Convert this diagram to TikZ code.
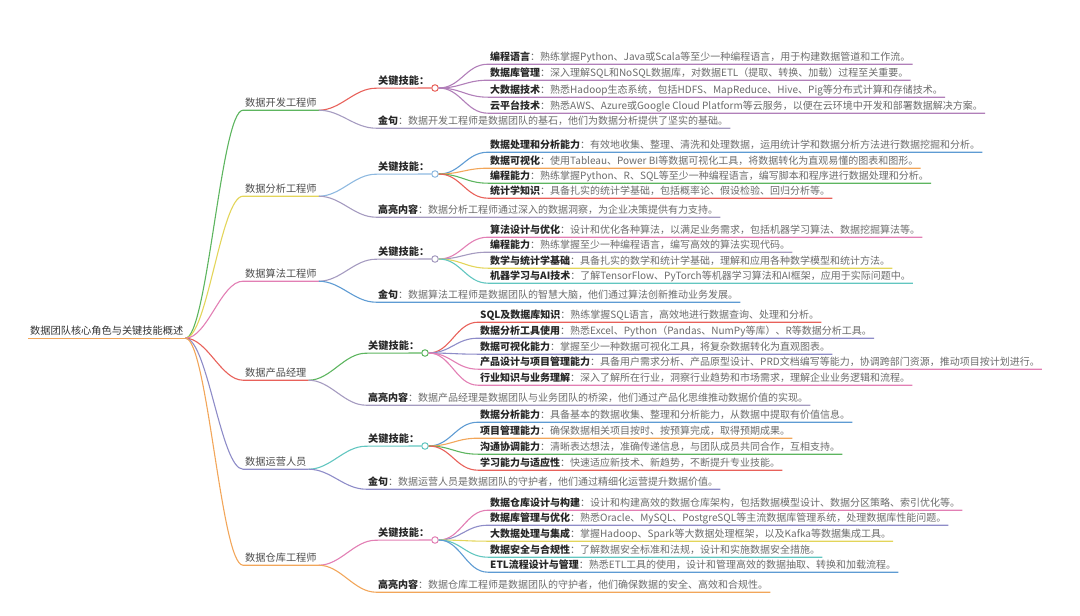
\documentclass[tikz,border=0pt]{standalone}
\usepackage{fontspec}
\setmainfont{Noto Sans CJK SC}
\usepackage{xcolor}
\usepackage{tikz}
\usetikzlibrary{calc}
\definecolor{cRed}{HTML}{E8615A}
\definecolor{cOrange}{HTML}{F2A65A}
\definecolor{cYellow}{HTML}{E3D55A}
\definecolor{cGreen}{HTML}{5DB55F}
\definecolor{cTeal}{HTML}{62C6C0}
\definecolor{cBlue}{HTML}{5E9BD3}
\definecolor{cPurple}{HTML}{8E8CC8}
\definecolor{cPink}{HTML}{E27FB4}
\definecolor{cMauve}{HTML}{B17FB9}
\definecolor{cGray}{HTML}{A59BC0}
\tikzset{
  topic/.style={anchor=west, inner xsep=2pt, inner ysep=2pt, text height=8pt, text depth=2pt,
    font=\fontsize{10.2}{12}\selectfont},
  rootnode/.style={topic, text=black!80},
  role/.style={topic, text=black!70},
  head/.style={topic, text=black!85, font=\fontsize{10.2}{12}\selectfont\bfseries},
  leaf/.style={topic, text=black!58, font=\fontsize{10}{12}\selectfont},
  dot/.style={circle, draw=#1, fill=white, line width=1pt, inner sep=0pt, minimum size=6.5pt},
  link/.style={draw=#1, line width=1.1pt},
  mmcurve/.style={to path={.. controls +(22,0) and +(-22,0) .. (\tikztotarget)}}}
\newcommand{\keytxt}[1]{{\color{black!85}\bfseries #1}}

\begin{document}
\begin{tikzpicture}[x=1pt, y=-1pt]
  \useasboundingbox (0,0) rectangle (1080,616);
  % root
  \node[rootnode] (root) at (28,331) {数据团队核心角色与关键技能概述};
  \draw[link=cOrange] (root.south west) -- (root.south east);
  % roles
  \node[role] (r1) at (243,103) {数据开发工程师};
  \node[role] (r2) at (243,189) {数据分析工程师};
  \node[role] (r3) at (243,274) {数据算法工程师};
  \node[role] (r4) at (243,373) {数据产品经理};
  \node[role] (r5) at (243,462) {数据运营人员};
  \node[role] (r6) at (243,558) {数据仓库工程师};
  \foreach \r/\c in {r1/cGreen, r2/cYellow, r3/cPink, r4/cRed, r5/cPurple, r6/cOrange}
    \draw[link=\c] (root.south east) to[mmcurve] (\r.south west) -- (\r.south east);

  % group 1: development
  \node[head] (k1) at (376,81) {关键技能：};
  \node[dot=cRed] (d1) at (435,88) {};
  \draw[link=cRed] (r1.south east) to[mmcurve] (k1.south west) -- (d1.west);
  \foreach \y/\c/\k/\t [count=\i] in {
      57/cMauve/编程语言/熟练掌握Python、Java或Scala等至少一种编程语言，用于构建数据管道和工作流。,
      73/cMauve/数据库管理/深入理解SQL和NoSQL数据库，对数据ETL（提取、转换、加载）过程至关重要。,
      90/cMauve/大数据技术/熟悉Hadoop生态系统，包括HDFS、MapReduce、Hive、Pig等分布式计算和存储技术。,
      106/cMauve/云平台技术/熟悉AWS、Azure或Google Cloud Platform等云服务，以便在云环境中开发和部署数据解决方案。}{
    \node[leaf] (c1\i) at (488,\y) {\keytxt{\k}：\t};
    \draw[link=\c] (d1.east) to[mmcurve] (c1\i.south west) -- (c1\i.south east);
  }
  \node[leaf] (q1) at (376,121) {\keytxt{金句}：数据开发工程师是数据团队的基石，他们为数据分析提供了坚实的基础。};
  \draw[link=cGray] (r1.south east) to[mmcurve] (q1.south west) -- (q1.south east);

  % group 2: analysis
  \node[head] (k2) at (376,167) {关键技能：};
  \node[dot=cBlue!70] (d2) at (435,174) {};
  \draw[link=cBlue!70] (r2.south east) to[mmcurve] (k2.south west) -- (d2.west);
  \foreach \y/\c/\k/\t [count=\i] in {
      145/cBlue/数据处理和分析能力/有效地收集、整理、清洗和处理数据，运用统计学和数据分析方法进行数据挖掘和分析。,
      161/cOrange/数据可视化/使用Tableau、Power BI等数据可视化工具，将数据转化为直观易懂的图表和图形。,
      176/cGreen/编程能力/熟练掌握Python、R、SQL等至少一种编程语言，编写脚本和程序进行数据处理和分析。,
      191/cRed/统计学知识/具备扎实的统计学基础，包括概率论、假设检验、回归分析等。}{
    \node[leaf] (c2\i) at (488,\y) {\keytxt{\k}：\t};
    \draw[link=\c] (d2.east) to[mmcurve] (c2\i.south west) -- (c2\i.south east);
  }
  \node[leaf] (q2) at (376,210) {\keytxt{高亮内容}：数据分析工程师通过深入的数据洞察，为企业决策提供有力支持。};
  \draw[link=cGray] (r2.south east) to[mmcurve] (q2.south west) -- (q2.south east);

  % group 3: algorithms
  \node[head] (k3) at (376,252) {关键技能：};
  \node[dot=cGray] (d3) at (435,259) {};
  \draw[link=cGray] (r3.south east) to[mmcurve] (k3.south west) -- (d3.west);
  \foreach \y/\c/\k/\t [count=\i] in {
      230/cPink/算法设计与优化/设计和优化各种算法，以满足业务需求，包括机器学习算法、数据挖掘算法等。,
      245/cGray/编程能力/熟练掌握至少一种编程语言，编写高效的算法实现代码。,
      261/cYellow/数学与统计学基础/具备扎实的数学和统计学基础，理解和应用各种数学模型和统计方法。,
      276/cTeal/机器学习与AI技术/了解TensorFlow、PyTorch等机器学习算法和AI框架，应用于实际问题中。}{
    \node[leaf] (c3\i) at (488,\y) {\keytxt{\k}：\t};
    \draw[link=\c] (d3.east) to[mmcurve] (c3\i.south west) -- (c3\i.south east);
  }
  \node[leaf] (q3) at (376,295) {\keytxt{金句}：数据算法工程师是数据团队的智慧大脑，他们通过算法创新推动业务发展。};
  \draw[link=cBlue] (r3.south east) to[mmcurve] (q3.south west) -- (q3.south east);

  % group 4: product
  \node[head] (k4) at (366,346) {关键技能：};
  \node[dot=cGreen] (d4) at (425,353) {};
  \draw[link=cGreen] (r4.south east) to[mmcurve] (k4.south west) -- (d4.west);
  \foreach \y/\c/\k/\t [count=\i] in {
      315/cRed/SQL及数据库知识/熟练掌握SQL语言，高效地进行数据查询、处理和分析。,
      331/cPurple/数据分析工具使用/熟悉Excel、Python（Pandas、NumPy等库）、R等数据分析工具。,
      347/cPurple/数据可视化能力/掌握至少一种数据可视化工具，将复杂数据转化为直观图表。,
      362/cPink/产品设计与项目管理能力/具备用户需求分析、产品原型设计、PRD文档编写等能力，协调跨部门资源，推动项目按计划进行。,
      378/cPink/行业知识与业务理解/深入了解所在行业，洞察行业趋势和市场需求，理解企业业务逻辑和流程。}{
    \node[leaf] (c4\i) at (478,\y) {\keytxt{\k}：\t};
    \draw[link=\c] (d4.east) to[mmcurve] (c4\i.south west) -- (c4\i.south east);
  }
  \node[leaf] (q4) at (366,398) {\keytxt{高亮内容}：数据产品经理是数据团队与业务团队的桥梁，他们通过产品化思维推动数据价值的实现。};
  \draw[link=cGray] (r4.south east) to[mmcurve] (q4.south west) -- (q4.south east);

  % group 5: operations
  \node[head] (k5) at (366,439) {关键技能：};
  \node[dot=cTeal] (d5) at (425,446) {};
  \draw[link=cTeal] (r5.south east) to[mmcurve] (k5.south west) -- (d5.west);
  \foreach \y/\c/\k/\t [count=\i] in {
      415/cBlue/数据分析能力/具备基本的数据收集、整理和分析能力，从数据中提取有价值信息。,
      431/cOrange/项目管理能力/确保数据相关项目按时、按预算完成，取得预期成果。,
      447/cGreen/沟通协调能力/清晰表达想法，准确传递信息，与团队成员共同合作，互相支持。,
      463/cRed/学习能力与适应性/快速适应新技术、新趋势，不断提升专业技能。}{
    \node[leaf] (c5\i) at (478,\y) {\keytxt{\k}：\t};
    \draw[link=\c] (d5.east) to[mmcurve] (c5\i.south west) -- (c5\i.south east);
  }
  \node[leaf] (q5) at (366,482) {\keytxt{金句}：数据运营人员是数据团队的守护者，他们通过精细化运营提升数据价值。};
  \draw[link=cPurple] (r5.south east) to[mmcurve] (q5.south west) -- (q5.south east);

  % group 6: warehouse
  \node[head] (k6) at (376,533) {关键技能：};
  \node[dot=cPink] (d6) at (435,540) {};
  \draw[link=cPink] (r6.south east) to[mmcurve] (k6.south west) -- (d6.west);
  \foreach \y/\c/\k/\t [count=\i] in {
      503/cPink/数据仓库设计与构建/设计和构建高效的数据仓库架构，包括数据模型设计、数据分区策略、索引优化等。,
      518/cPurple/数据库管理与优化/熟悉Oracle、MySQL、PostgreSQL等主流数据库管理系统，处理数据库性能问题。,
      534/cYellow/大数据处理与集成/掌握Hadoop、Spark等大数据处理框架，以及Kafka等数据集成工具。,
      550/cTeal/数据安全与合规性/了解数据安全标准和法规，设计和实施数据安全措施。,
      565/cBlue/ETL流程设计与管理/熟悉ETL工具的使用，设计和管理高效的数据抽取、转换和加载流程。}{
    \node[leaf] (c6\i) at (488,\y) {\keytxt{\k}：\t};
    \draw[link=\c] (d6.east) to[mmcurve] (c6\i.south west) -- (c6\i.south east);
  }
  \node[leaf] (q6) at (376,585) {\keytxt{高亮内容}：数据仓库工程师是数据团队的守护者，他们确保数据的安全、高效和合规性。};
  \draw[link=cOrange] (r6.south east) to[mmcurve] (q6.south west) -- (q6.south east);
\end{tikzpicture}
\end{document}
